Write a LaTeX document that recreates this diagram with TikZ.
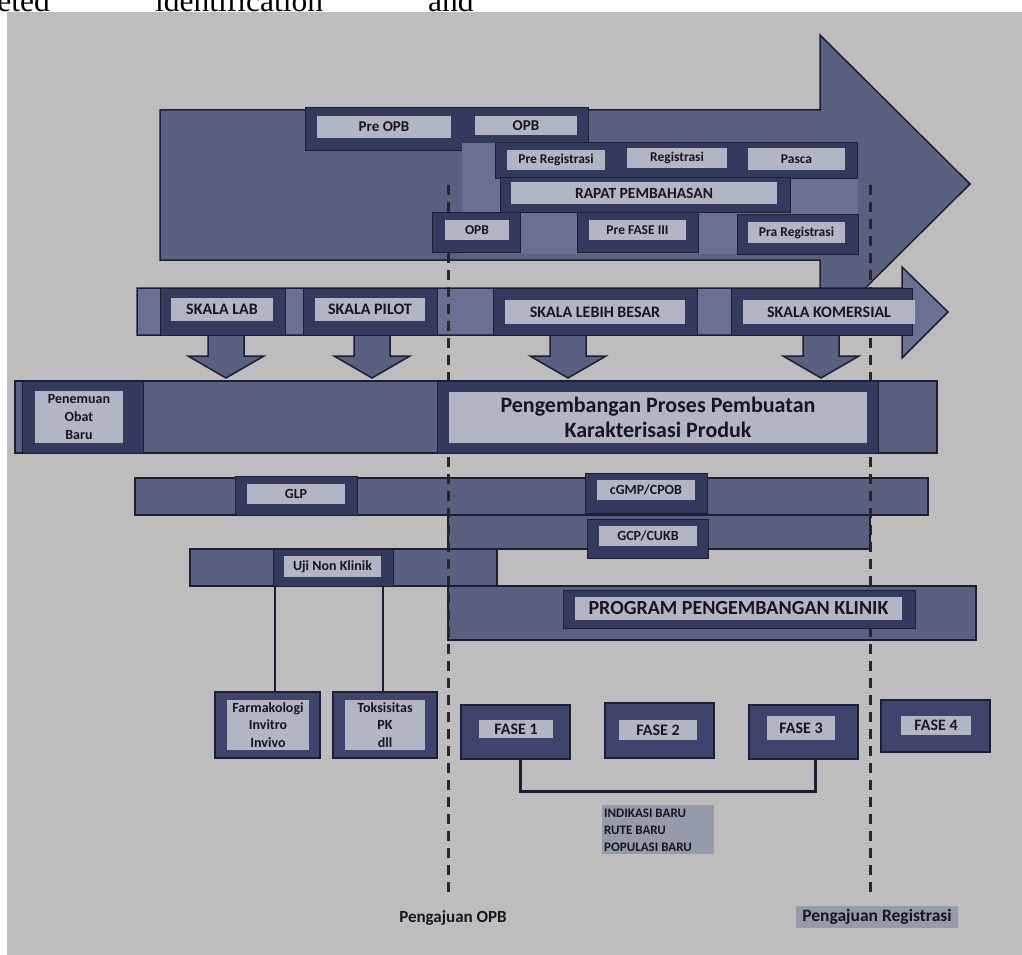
\documentclass[tikz,border=0pt]{standalone}
\usepackage{fontspec}
\setmainfont{Carlito}
\newfontfamily\docserif{Liberation Serif}
\usetikzlibrary{fit}
\definecolor{bgc}{RGB}{189,189,189}
\definecolor{slate}{RGB}{90,96,128}
\definecolor{slatel}{RGB}{106,112,146}
\definecolor{darkb}{RGB}{52,58,94}
\definecolor{fasec}{RGB}{62,68,108}
\definecolor{edge}{RGB}{28,31,52}
\definecolor{lbl}{RGB}{178,182,196}
\definecolor{txt}{RGB}{22,22,32}
\definecolor{indc}{RGB}{150,155,172}
\newcommand\fsz[2]{\fontsize{#1}{#2}\selectfont}
\newcommand\downarr[1]{\path[blockarrow] (#1-18,330) -- (#1+18,330) -- (#1+18,356) -- (#1+38,356) -- (#1,378) -- (#1-38,356) -- (#1-18,356) -- cycle;}
\newcommand\lbox[7][]{%
  \pgfmathsetmacro\bxw{#5-#3}\pgfmathsetmacro\bxh{#6-#4}%
  \pgfmathsetmacro\bxx{(#3+#5)/2}\pgfmathsetmacro\bxy{(#4+#6)/2}%
  \node[lblbox,#1,minimum width=\bxw pt,minimum height=\bxh pt] (#2) at (\bxx,\bxy) {#7};}
\begin{document}
\begin{tikzpicture}[x=1pt,y=-1pt,
  bandbox/.style={fill=slate,draw=edge,line width=1.5pt,inner sep=0pt},
  darkbox/.style={fill=darkb,draw=edge,line width=1pt,inner sep=0pt},
  lblbox/.style={fill=lbl,draw=none,inner sep=0pt,text=txt,font=\bfseries\fsz{14}{17.5},align=center},
  fasebox/.style={fill=fasec,draw=edge,line width=2.5pt,inner sep=0pt},
  conn/.style={draw=edge,line width=2.5pt},
  divider/.style={draw=black!85,line width=3pt,dash pattern=on 10pt off 7pt},
  blockarrow/.style={fill=slate,draw=edge,line width=1.5pt,line join=miter}
]
\useasboundingbox (0,0) rectangle (1022,955);
\fill[white] (0,0) rectangle (1022,955);
\fill[bgc] (7,12) rectangle (1022,955);
\begin{scope}
\clip (0,0) rectangle (1022,955);
\node[font=\docserif\fsz{31.5}{32}, anchor=base east, inner sep=0pt] (w1) at (50,12) {eted};
\node[font=\docserif\fsz{31.5}{32}, anchor=base west, inner sep=0pt] (w2) at (155,12) {identification};
\node[font=\docserif\fsz{31.5}{32}, anchor=base west, inner sep=0pt] (w3) at (428,12) {and};
\end{scope}

% big top arrow
\path[blockarrow] (160,110) -- (820,110) -- (820,35) -- (970,184) -- (820,333) -- (820,260) -- (160,260) -- cycle;
\node[darkbox, fit={(305,108) (588,150)}] (row1) {};
\fill[slatel] (462,143) rectangle (858,254);
\node[darkbox, fit={(495,142) (857,178)}] (row2) {};
\node[darkbox, fit={(500,177) (790,212)}] (row3) {};

% down arrows
\downarr{226}
\downarr{372}
\downarr{568}
\downarr{821}

% skala arrow
\path[blockarrow, fill=slatel] (137,288) -- (902,288) -- (902,267) -- (948,312) -- (902,358) -- (902,335) -- (137,335) -- cycle;

% bands
\node[bandbox, fit={(15,381) (937,453)}] (penband) {};
\node[bandbox, fit={(135,478) (928,515)}] (glpband) {};
\node[bandbox, fit={(448,515) (870,549)}] (gcpband) {};
\node[bandbox, fit={(448,586) (976,640)}] (progband) {};
\node[bandbox, fit={(190,549) (497,586)}] (ujiband) {};

% dividers
\coordinate (d1t) at (448,185);
\coordinate (d1b) at (448,897);
\coordinate (d2t) at (870,185);
\coordinate (d2b) at (870,897);
\draw[divider] (d1t) -- (d1b);
\draw[divider] (d2t) -- (d2b);

% dark boxes
\node[darkbox, fit={(432,212) (520,252)}] (row4a) {};
\node[darkbox, fit={(577,212) (698,252)}] (row4b) {};
\node[darkbox, fit={(737,214) (858,254)}] (row4c) {};
\node[darkbox, fit={(160,288) (285,335)}] (skd1) {};
\node[darkbox, fit={(303,288) (437,335)}] (skd2) {};
\node[darkbox, fit={(493,288) (697,335)}] (skd3) {};
\node[darkbox, fit={(731,288) (912,335)}] (skd4) {};
\node[darkbox, fit={(22,381) (143,453)}] (pend1) {};
\node[darkbox, fit={(437,381) (878,453)}] (pend2) {};
\node[darkbox, fit={(235,476) (357,515)}] (glpd) {};
\node[darkbox, fit={(585,473) (707,513)}] (gmpd) {};
\node[darkbox, fit={(587,519) (708,558)}] (gcpd) {};
\node[darkbox, fit={(273,549) (393,586)}] (ujid) {};
\node[darkbox, fit={(563,590) (915,628)}] (progd) {};

% labels in big arrow
\lbox[font=\bfseries\fsz{15}{17}]{preopb}{317}{116}{451}{138}{Pre OPB}
\lbox[font=\bfseries\fsz{15}{17}]{opb1}{475}{116}{577}{135}{OPB}
\lbox[font=\bfseries\fsz{13.5}{16}]{prereg}{507}{150}{605}{170}{Pre Registrasi}
\lbox[font=\bfseries\fsz{13.5}{16}]{reg}{627}{148}{727}{168}{Registrasi}
\lbox[font=\bfseries\fsz{13.5}{16}]{pasca}{748}{148}{845}{170}{Pasca}
\lbox[font=\bfseries\fsz{15.5}{17}]{rapat}{511}{182}{777}{204}{RAPAT PEMBAHASAN}
\lbox[font=\bfseries\fsz{13.5}{16}]{opb2}{445}{220}{509}{240}{OPB}
\lbox[font=\bfseries\fsz{13.5}{16}]{prefase}{589}{220}{686}{240}{Pre FASE III}
\lbox[font=\bfseries\fsz{13.5}{16}]{prareg}{748}{222}{845}{243}{Pra Registrasi}

% skala labels
\lbox[font=\bfseries\fsz{16}{18}]{sklab}{171}{298}{273}{321}{SKALA LAB}
\lbox[font=\bfseries\fsz{16}{18}]{skpilot}{315}{298}{425}{321}{SKALA PILOT}
\lbox[font=\bfseries\fsz{16}{18}]{skbesar}{505}{300}{685}{324}{SKALA LEBIH BESAR}
\lbox[font=\bfseries\fsz{16}{18}]{skkom}{743}{300}{915}{324}{SKALA KOMERSIAL}

% row labels
\lbox[font=\bfseries\fsz{14}{18}]{penemuan}{35}{391}{123}{443}{Penemuan\\Obat\\Baru}
\lbox[font=\bfseries\fsz{22}{25}]{pengembangan}{449}{392}{867}{443}{Pengembangan Proses Pembuatan\\Karakterisasi Produk}
\lbox{glp}{247}{484}{345}{504}{GLP}
\lbox{cgmp}{597}{480}{695}{500}{cGMP/CPOB}
\lbox{gcp}{599}{526}{697}{546}{GCP/CUKB}
\lbox{uji}{284}{556}{381}{577}{Uji Non Klinik}
\lbox[font=\bfseries\fsz{20}{22}]{prog}{575}{597}{902}{620}{PROGRAM PENGEMBANGAN KLINIK}

% non-clinical boxes
\node[fasebox, fit={(215,692) (320,758)}] (farm) {};
\node[fasebox, fit={(333,692) (437,758)}] (toks) {};
\lbox{farml}{227}{700}{309}{750}{Farmakologi\\Invitro\\Invivo}
\lbox{toksl}{345}{700}{425}{750}{Toksisitas\\PK\\dll}
\coordinate (fa) at ([xshift=7.5pt]farm.north);
\coordinate (ta) at ([xshift=-2pt]toks.north);
\draw[conn] (fa) -- (fa |- ujiband.south);
\draw[conn] (ta) -- (ta |- ujiband.south);

% phases
\node[fasebox, fit={(461,705) (570,759)}] (f1) {};
\node[fasebox, fit={(605,703) (714,758)}] (f2) {};
\node[fasebox, fit={(749,705) (858,759)}] (f3) {};
\node[fasebox, fit={(881,700) (990,752)}] (f4) {};
\lbox[font=\bfseries\fsz{16}{18}]{f1l}{479}{720}{553}{738}{FASE 1}
\lbox[font=\bfseries\fsz{16}{18}]{f2l}{619}{720}{697}{740}{FASE 2}
\lbox[font=\bfseries\fsz{16}{18}]{f3l}{767}{716}{835}{740}{FASE 3}
\lbox[font=\bfseries\fsz{16}{18}]{f4l}{901}{716}{971}{735}{FASE 4}
\coordinate (b1) at ([xshift=4.5pt]f1.south);
\coordinate (b3) at ([xshift=11.5pt]f3.south);
\draw[conn, line width=3pt] (b1) -- ++(0,31) -| (b3);

\node[fill=indc, inner sep=0pt, fit={(602,805) (714,854)}] (indbox) {};
\node[anchor=north west, inner sep=0pt, align=left, text=txt, font=\bfseries\fsz{13}{17}] (indtxt) at (604,809) {INDIKASI BARU\\RUTE BARU\\POPULASI BARU};

\node[text=txt, font=\bfseries\fsz{17}{19}, inner sep=0pt] (popb) at (453,918) {Pengajuan OPB};
\lbox[fill=indc, font=\bfseries\fsz{17.5}{19}]{preg}{796}{906}{958}{928}{Pengajuan Registrasi}
\end{tikzpicture}
\end{document}
